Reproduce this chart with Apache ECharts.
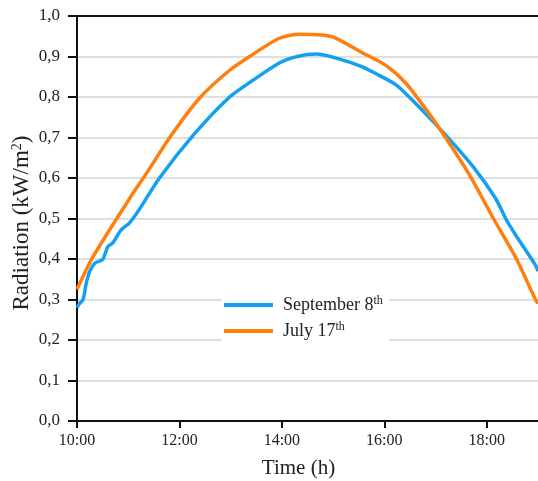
<!DOCTYPE html>
<html>
<head>
<meta charset="utf-8">
<script src="https://cdn.jsdelivr.net/npm/echarts@6/dist/echarts.min.js"></script>
<style>
  html, body { margin: 0; padding: 0; background: #fff; }
  #chart { width: 538px; height: 481px; }
</style>
</head>
<body>
<div id="chart"></div>
<script>
// time in hours, radiation in kW/m2
const timeSep = [10.00, 10.05, 10.12, 10.18, 10.25, 10.35, 10.45, 10.51, 10.60, 10.70, 10.85, 11.03, 11.23, 11.61, 12.30, 12.98, 13.42, 13.95, 14.30, 14.67, 15.06, 15.56, 15.89, 16.23, 16.54, 16.87, 17.20, 17.74, 18.17, 18.39, 18.56, 18.95, 19.00]
const valSep = [0.28, 0.29, 0.30, 0.34, 0.37, 0.39, 0.395, 0.40, 0.43, 0.44, 0.47, 0.49, 0.525, 0.60, 0.71, 0.80, 0.84, 0.884, 0.90, 0.906, 0.896, 0.875, 0.854, 0.83, 0.793, 0.75, 0.706, 0.627, 0.55, 0.495, 0.46, 0.385, 0.37]

const timeJul = [10.00, 10.31, 11.03, 11.36, 11.81, 12.39, 12.98, 13.37, 13.95, 14.34, 14.79, 15.06, 15.56, 16.03, 16.42, 16.81, 17.12, 17.65, 18.13, 18.58, 18.95, 19.00]
const valJul = [0.325, 0.405, 0.55, 0.612, 0.70, 0.797, 0.866, 0.90, 0.945, 0.955, 0.953, 0.945, 0.91, 0.878, 0.834, 0.77, 0.714, 0.61, 0.50, 0.40, 0.30, 0.29]

const xTicks = [10, 12, 14, 16, 18]
const seriesNames = ['September 8', 'July 17']
const serif = "'Liberation Serif', 'Times New Roman', serif"

const myChart = echarts.init(document.getElementById('chart'))

const option = {
  animation: false,
  textStyle: { fontFamily: serif },
  grid: { left: 77, top: 16, right: 0, bottom: 60, containLabel: false, outerBoundsMode: 'none' },
  legend: {
    orient: 'vertical',
    left: 222,
    top: 289,
    padding: [6, 6, 6, 2],
    backgroundColor: '#fff',
    itemWidth: 49,
    itemHeight: 4,
    itemGap: 7,
    icon: 'rect',
    data: seriesNames,
    formatter: name => '{n|' + name + '}{s|th}',
    textStyle: {
      padding: [0, 0, 0, 5],
      rich: {
        n: { fontSize: 18, lineHeight: 20, color: '#222', fontFamily: serif },
        s: { fontSize: 12, lineHeight: 11, verticalAlign: 'top', color: '#222', fontFamily: serif }
      }
    }
  },
  xAxis: [{
    type: 'value',
    min: 10,
    max: 19,
    name: 'Time (h)',
    nameLocation: 'middle',
    nameGap: 37,
    nameMoveOverlap: false,
    nameTextStyle: { fontSize: 21, color: '#222', fontFamily: serif, padding: [0, 18, 0, 0] },
    axisLine: { lineStyle: { color: '#111', width: 2 } },
    axisTick: { show: true, length: 7, lineStyle: { color: '#111', width: 2 }, customValues: xTicks },
    axisLabel: {
      fontSize: 16, color: '#222', margin: 12, fontFamily: serif,
      customValues: xTicks,
      formatter: v => v + ':00'
    },
    splitLine: { show: false }
  }, {
    type: 'value',
    position: 'top',
    min: 10,
    max: 19,
    axisLine: { show: true, lineStyle: { color: '#111', width: 2 } },
    axisTick: { show: false },
    axisLabel: { show: false },
    splitLine: { show: false }
  }],
  yAxis: {
    type: 'value',
    min: 0,
    max: 1,
    interval: 0.1,
    name: 'Radiation (kW/m{s|2})',
    nameLocation: 'middle',
    nameGap: 44,
    nameMoveOverlap: false,
    nameTextStyle: {
      fontSize: 23, color: '#222', fontFamily: serif,
      padding: [0, 9, 0, 0],
      rich: {
        s: { fontSize: 14, verticalAlign: 'top', lineHeight: 12, color: '#222', fontFamily: serif }
      }
    },
    axisLine: { show: true, lineStyle: { color: '#111', width: 2 } },
    axisTick: { show: true, length: 9, lineStyle: { color: '#111', width: 2 } },
    axisLabel: {
      fontSize: 17, color: '#222', margin: 17, fontFamily: serif,
      formatter: v => v.toFixed(1).replace('.', ',')
    },
    splitLine: { lineStyle: { color: '#d4d4d4', width: 1.5 } }
  },
  series: [{
    name: seriesNames[0],
    type: 'line',
    data: timeSep.map((t, i) => [t, valSep[i]]),
    showSymbol: false,
    smooth: 0.25,
    lineStyle: { color: '#14A0F0', width: 3.5 },
    itemStyle: { color: '#14A0F0' }
  }, {
    name: seriesNames[1],
    type: 'line',
    data: timeJul.map((t, i) => [t, valJul[i]]),
    showSymbol: false,
    smooth: 0.25,
    lineStyle: { color: '#FF7F0E', width: 3.5 },
    itemStyle: { color: '#FF7F0E' }
  }]
}

myChart.setOption(option, true)
</script>
</body>
</html>
